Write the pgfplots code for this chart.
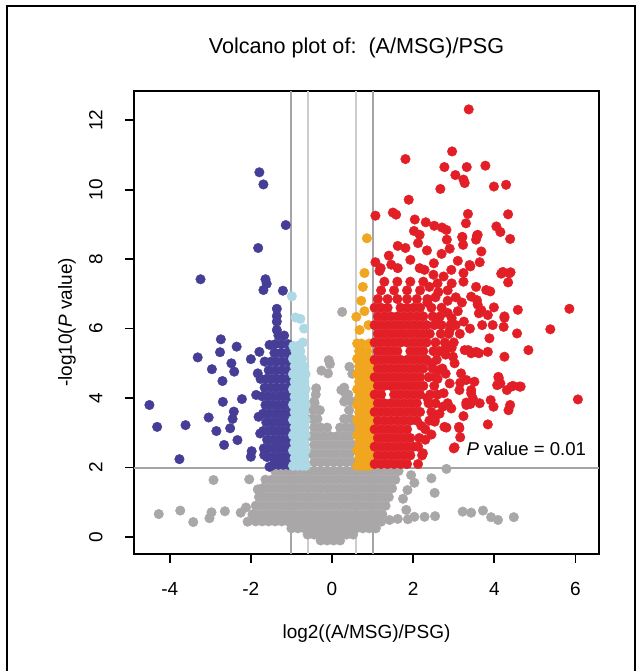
\documentclass[border=0pt]{standalone}
\usepackage{pgfplots}
\pgfplotsset{compat=1.18}
\usepackage{fontspec}
\setmainfont{Liberation Sans}
\definecolor{dnblue}{RGB}{70,62,150}
\definecolor{ltblue}{RGB}{173,216,230}
\definecolor{ptgray}{RGB}{170,167,169}
\definecolor{uporange}{RGB}{240,166,30}
\definecolor{upred}{RGB}{226,30,38}
\definecolor{refdark}{RGB}{165,165,165}
\definecolor{reflight}{RGB}{205,205,205}
\pgfplotsset{pt/.style={only marks, mark=*, mark size=2.4pt, color=#1, mark options={fill=#1, draw=#1, line width=0.2pt}}}
\begin{document}
\begin{tikzpicture}[font=\fontsize{9.5}{11.5}\selectfont]
\useasboundingbox (0,0) rectangle (321pt,335.5pt);
\draw[line width=0.8pt] (3.5pt,0) -- (3.5pt,332.5pt) -- (317.5pt,332.5pt) -- (317.5pt,0);
\begin{axis}[
  at={(67pt,58.5pt)}, anchor=south west,
  scale only axis, width=232.5pt, height=231.5pt,
  xmin=-4.88, xmax=6.58, ymin=-0.49, ymax=12.84,
  axis line style={line width=0.9pt},
  tick style={black, line width=0.9pt},
  major tick length=4.5pt, tick align=outside,
  xtick pos=left, ytick pos=left,
  xtick={-4,-2,0,2,4,6}, xticklabels={-4,-2,0,2,4,6},
  ytick={0,2,4,6,8,10,12}, yticklabels={0,2,4,6,8,10,12},
  xticklabel style={anchor=base, yshift=-16pt},
  yticklabel style={xshift=-11.25pt, rotate=90, anchor=base},
  title={Volcano plot of:\ \ (A/MSG)/PSG},
  title style={at={(rel axis cs:0.5,1)}, anchor=center, yshift=15.5pt, xshift=-5pt, font=\fontsize{10.8}{13}\selectfont},
  xlabel={log2((A/MSG)/PSG)},
  xlabel style={at={(rel axis cs:0.5,0)}, anchor=center, yshift=-40pt},
  ylabel={-log10(\textit{P} value)},
  ylabel style={at={(rel axis cs:0,0.5)}, anchor=center, yshift=33.5pt},
]
% threshold lines
\addplot[refdark, line width=1pt, no marks, sharp plot] coordinates {(-1,-0.49) (-1,12.84)};
\addplot[refdark, line width=1pt, no marks, sharp plot] coordinates {(1,-0.49) (1,12.84)};
\addplot[reflight, line width=1pt, no marks, sharp plot] coordinates {(-0.585,-0.49) (-0.585,12.84)};
\addplot[reflight, line width=1pt, no marks, sharp plot] coordinates {(0.585,-0.49) (0.585,12.84)};
\addplot[refdark, line width=1pt, no marks, sharp plot] coordinates {(-4.88,2) (6.58,2)};

% not significant
\addplot[pt=ptgray] coordinates {
(-1.40,1.9) (-1.24,1.9) (-1.08,1.9) (-0.92,1.9) (-0.76,1.9) (-0.60,1.9) (-0.44,1.9) (-0.28,1.9) (-0.12,1.9) (0.04,1.9) (0.20,1.9) (0.36,1.9) (0.52,1.9) (0.68,1.9) (0.84,1.9) (1.00,1.9) (1.16,1.9) (1.32,1.9) (1.48,1.9) (1.64,1.9)
(-1.64,1.65) (-1.48,1.65) (-1.32,1.65) (-1.16,1.65) (-1.00,1.65) (-0.84,1.65) (-0.68,1.65) (-0.52,1.65) (-0.36,1.65) (-0.20,1.65) (-0.04,1.65) (0.12,1.65) (0.28,1.65) (0.44,1.65) (0.60,1.65) (0.76,1.65) (0.92,1.65) (1.08,1.65) (1.24,1.65) (1.40,1.65) (1.56,1.65)
(-1.72,1.4) (-1.56,1.4) (-1.40,1.4) (-1.24,1.4) (-1.08,1.4) (-0.92,1.4) (-0.76,1.4) (-0.60,1.4) (-0.44,1.4) (-0.28,1.4) (-0.12,1.4) (0.04,1.4) (0.20,1.4) (0.36,1.4) (0.52,1.4) (0.68,1.4) (0.84,1.4) (1.00,1.4) (1.16,1.4) (1.32,1.4) (1.48,1.4)
(-1.80,1.15) (-1.64,1.15) (-1.48,1.15) (-1.32,1.15) (-1.16,1.15) (-1.00,1.15) (-0.84,1.15) (-0.68,1.15) (-0.52,1.15) (-0.36,1.15) (-0.20,1.15) (-0.04,1.15) (0.12,1.15) (0.28,1.15) (0.44,1.15) (0.60,1.15) (0.76,1.15) (0.92,1.15) (1.08,1.15) (1.24,1.15) (1.40,1.15)
(-1.88,0.9) (-1.72,0.9) (-1.56,0.9) (-1.40,0.9) (-1.24,0.9) (-1.08,0.9) (-0.92,0.9) (-0.76,0.9) (-0.60,0.9) (-0.44,0.9) (-0.28,0.9) (-0.12,0.9) (0.04,0.9) (0.20,0.9) (0.36,0.9) (0.52,0.9) (0.68,0.9) (0.84,0.9) (1.00,0.9) (1.16,0.9) (1.32,0.9)
(-1.96,0.65) (-1.80,0.65) (-1.64,0.65) (-1.48,0.65) (-1.32,0.65) (-1.16,0.65) (-1.00,0.65) (-0.84,0.65) (-0.68,0.65) (-0.52,0.65) (-0.36,0.65) (-0.20,0.65) (-0.04,0.65) (0.12,0.65) (0.28,0.65) (0.44,0.65) (0.60,0.65) (0.76,0.65) (0.92,0.65) (1.08,0.65) (1.24,0.65)
(-1.88,0.45) (-1.72,0.45) (-1.56,0.45) (-1.40,0.45) (-1.24,0.45) (-1.08,0.45) (-0.92,0.45) (-0.76,0.45) (-0.60,0.45) (-0.44,0.45) (-0.28,0.45) (-0.12,0.45) (0.04,0.45) (0.20,0.45) (0.36,0.45) (0.52,0.45) (0.68,0.45) (0.84,0.45) (1.00,0.45) (1.16,0.45)
(-1.00,0.25) (-0.84,0.25) (-0.68,0.25) (-0.52,0.25) (-0.36,0.25) (-0.20,0.25) (-0.04,0.25) (0.12,0.25) (0.28,0.25) (0.44,0.25) (0.60,0.25) (0.76,0.25) (0.92,0.25) (1.08,0.25)
(-0.60,0.07) (-0.44,0.07) (-0.28,0.07) (-0.12,0.07) (0.04,0.07) (0.20,0.07) (0.36,0.07) (0.52,0.07)
(-0.28,-0.1) (-0.12,-0.1) (0.04,-0.1) (0.20,-0.1)
(-0.44,2.15) (-0.28,2.15) (-0.12,2.15) (0.04,2.15) (0.20,2.15) (0.36,2.15) (0.52,2.15)
(-0.52,2.4) (-0.36,2.4) (-0.20,2.4) (-0.04,2.4) (0.12,2.4) (0.28,2.4) (0.44,2.4)
(-0.44,2.65) (-0.28,2.65) (-0.12,2.65) (0.04,2.65) (0.20,2.65) (0.36,2.65) (0.52,2.65)
(-0.52,2.9) (-0.36,2.9) (-0.20,2.9) (-0.04,2.9) (0.12,2.9) (0.28,2.9) (0.44,2.9)
(-0.44,3.15) (-0.28,3.15) (-0.12,3.15) (0.20,3.15) (0.36,3.15) (0.52,3.15)
(-0.50,3.4) (-0.36,3.4) (0.30,3.4) (0.46,3.4)
(-0.46,3.65) (-0.30,3.65) (0.42,3.65)
(-0.44,3.9) (0.30,3.9) (0.48,3.9)
(-0.40,4.1) (0.40,4.1)
(0.25,6.48) (-0.08,5.09) (-0.26,4.79) (-0.10,4.71) (-0.39,4.28) (0.23,4.23) (0.30,4.30) (-0.43,3.85) (0.34,4.12) (0.43,4.90) (0.50,4.70) (-0.05,4.98)
(-4.27,0.66) (-3.74,0.76) (-3.42,0.43) (-3.02,0.54) (-2.97,0.71) (-2.64,0.74) (-2.92,1.64) (-2.04,1.66) (-1.83,1.37) (-2.12,0.85) (-2.08,0.44) (-2.25,0.70)
(2.82,1.96) (2.45,1.69) (2.53,1.27) (1.95,1.78) (2.03,1.56) (1.83,0.78) (1.62,0.52) (1.42,0.49) (1.21,0.44) (1.87,0.51) (2.03,0.58) (2.28,0.58) (2.54,0.60) (3.22,0.73) (3.43,0.70) (3.72,0.76) (3.92,0.57) (4.09,0.49) (4.48,0.57) (1.86,1.35) (1.75,1.10)
};

% down, |log2FC| >= 1
\addplot[pt=dnblue] coordinates {
(-1.79,10.5) (-1.69,10.15) (-1.14,8.98) (-1.82,8.32) (-3.24,7.42) (-1.64,7.42) (-1.61,7.29) (-1.69,7.11) (-1.21,7.09) (-1.36,6.57) (-1.36,6.36) (-1.36,6.2)
(-2.74,5.69) (-2.35,5.48) (-2.76,5.32) (-3.31,5.17) (-2.48,5.0) (-2.41,4.76) (-2.96,4.83) (-2.0,5.12) (-2.70,4.49) (-2.22,3.97) (-2.69,3.89) (-4.50,3.8) (-2.42,3.61) (-3.04,3.44) (-2.45,3.40) (-4.31,3.17) (-3.61,3.22) (-2.51,3.13) (-2.85,3.05) (-2.33,2.79) (-2.66,2.65) (-3.76,2.24) (-1.98,2.47) (-2.0,2.31)
(-1.79,5.33) (-1.54,5.53) (-1.36,5.96) (-1.83,4.71) (-1.87,4.09) (-1.81,3.46) (-1.77,2.98) (-1.67,2.36) (-1.54,2.02)
(-1.08,2.08) (-1.20,2.08) (-1.32,2.08) (-1.44,2.08)
(-1.10,2.3) (-1.22,2.3) (-1.34,2.3) (-1.46,2.3) (-1.60,2.3)
(-1.06,2.55) (-1.18,2.55) (-1.30,2.55) (-1.42,2.55) (-1.55,2.55) (-1.68,2.55)
(-1.10,2.8) (-1.22,2.8) (-1.34,2.8) (-1.46,2.8) (-1.60,2.8)
(-1.06,3.05) (-1.18,3.05) (-1.30,3.05) (-1.42,3.05) (-1.55,3.05) (-1.70,3.05)
(-1.10,3.3) (-1.22,3.3) (-1.34,3.3) (-1.48,3.3) (-1.62,3.3)
(-1.06,3.55) (-1.18,3.55) (-1.30,3.55) (-1.42,3.55) (-1.56,3.55) (-1.70,3.55)
(-1.10,3.8) (-1.22,3.8) (-1.36,3.8) (-1.50,3.8) (-1.64,3.8)
(-1.06,4.05) (-1.18,4.05) (-1.30,4.05) (-1.44,4.05) (-1.58,4.05) (-1.72,4.05)
(-1.10,4.3) (-1.24,4.3) (-1.38,4.3) (-1.52,4.3) (-1.66,4.3)
(-1.06,4.55) (-1.20,4.55) (-1.34,4.55) (-1.48,4.55) (-1.62,4.55) (-1.76,4.55)
(-1.10,4.8) (-1.24,4.8) (-1.40,4.8) (-1.56,4.8)
(-1.08,5.05) (-1.22,5.05) (-1.36,5.05) (-1.50,5.05) (-1.66,5.05)
(-1.12,5.3) (-1.26,5.3) (-1.42,5.3)
(-1.08,5.55) (-1.24,5.55) (-1.40,5.55)
(-1.18,5.8) (-1.32,5.8)
};

% down, 0.585 <= |log2FC| < 1
\addplot[pt=ltblue] coordinates {
(-0.96,2.05) (-0.85,2.05) (-0.74,2.05) (-0.65,2.05)
(-0.92,2.27) (-0.80,2.27) (-0.68,2.27)
(-0.96,2.49) (-0.85,2.49) (-0.74,2.49) (-0.65,2.49)
(-0.92,2.71) (-0.80,2.71) (-0.68,2.71)
(-0.96,2.93) (-0.85,2.93) (-0.74,2.93) (-0.65,2.93)
(-0.92,3.15) (-0.80,3.15) (-0.68,3.15)
(-0.96,3.37) (-0.85,3.37) (-0.74,3.37) (-0.65,3.37)
(-0.92,3.59) (-0.80,3.59) (-0.68,3.59)
(-0.96,3.81) (-0.85,3.81) (-0.74,3.81) (-0.65,3.81)
(-0.92,4.03) (-0.80,4.03) (-0.68,4.03)
(-0.96,4.25) (-0.85,4.25) (-0.74,4.25) (-0.65,4.25)
(-0.92,4.47) (-0.80,4.47) (-0.68,4.47)
(-0.96,4.69) (-0.85,4.69) (-0.74,4.69) (-0.65,4.69)
(-0.92,4.91) (-0.80,4.91) (-0.68,4.91)
(-0.96,5.13) (-0.85,5.13) (-0.74,5.13)
(-0.90,5.35) (-0.78,5.35)
(-0.99,6.93) (-0.90,6.32) (-0.78,6.28) (-0.69,6.0) (-0.95,5.5) (-0.84,5.5) (-0.72,5.6)
};

% up, 0.585 <= log2FC < 1
\addplot[pt=uporange] coordinates {
(0.62,2.05) (0.72,2.05) (0.82,2.05) (0.92,2.05)
(0.67,2.27) (0.77,2.27) (0.87,2.27) (0.97,2.27)
(0.62,2.49) (0.72,2.49) (0.82,2.49) (0.92,2.49)
(0.67,2.71) (0.77,2.71) (0.87,2.71) (0.97,2.71)
(0.62,2.93) (0.72,2.93) (0.82,2.93) (0.92,2.93)
(0.67,3.15) (0.77,3.15) (0.87,3.15) (0.97,3.15)
(0.62,3.37) (0.72,3.37) (0.82,3.37) (0.92,3.37)
(0.67,3.59) (0.77,3.59) (0.87,3.59) (0.97,3.59)
(0.62,3.81) (0.72,3.81) (0.82,3.81) (0.92,3.81)
(0.67,4.03) (0.77,4.03) (0.87,4.03) (0.97,4.03)
(0.62,4.25) (0.72,4.25) (0.82,4.25) (0.92,4.25)
(0.67,4.47) (0.77,4.47) (0.87,4.47) (0.97,4.47)
(0.62,4.69) (0.72,4.69) (0.82,4.69) (0.92,4.69)
(0.67,4.91) (0.77,4.91) (0.87,4.91) (0.97,4.91)
(0.62,5.13) (0.72,5.13) (0.82,5.13) (0.92,5.13)
(0.67,5.35) (0.77,5.35) (0.87,5.35)
(0.62,5.57) (0.72,5.57) (0.92,5.57)
(0.68,5.96) (0.90,6.10) (0.60,6.34) (0.80,6.50) (0.72,6.80) (0.76,7.20) (0.80,7.60) (0.86,8.60)
};

% up, log2FC >= 1
\addplot[pt=upred] coordinates {
(1.05,2.1) (1.21,2.1) (1.37,2.1) (1.53,2.1) (1.69,2.1) (1.85,2.1) (2.12,2.1)
(1.13,2.35) (1.29,2.35) (1.45,2.35) (1.61,2.35) (1.77,2.35) (1.93,2.35) (2.22,2.35)
(1.05,2.6) (1.21,2.6) (1.37,2.6) (1.53,2.6) (1.69,2.6) (1.85,2.6) (2.01,2.6)
(1.13,2.85) (1.29,2.85) (1.45,2.85) (1.61,2.85) (1.77,2.85) (1.93,2.85) (2.15,2.85)
(1.05,3.1) (1.21,3.1) (1.37,3.1) (1.53,3.1) (1.69,3.1) (1.85,3.1) (2.30,3.1)
(1.13,3.35) (1.29,3.35) (1.45,3.35) (1.61,3.35) (1.77,3.35) (1.93,3.35) (2.09,3.35)
(1.05,3.6) (1.21,3.6) (1.37,3.6) (1.53,3.6) (1.69,3.6) (1.85,3.6) (2.01,3.6) (2.17,3.6) (2.45,3.6)
(1.13,3.85) (1.29,3.85) (1.45,3.85) (1.61,3.85) (1.77,3.85) (1.93,3.85) (2.09,3.85) (2.38,3.85)
(1.05,4.1) (1.21,4.1) (1.53,4.1) (1.69,4.1) (1.85,4.1) (2.01,4.1) (2.17,4.1) (2.42,4.1) (2.60,4.1)
(1.13,4.35) (1.29,4.35) (1.45,4.35) (1.61,4.35) (1.77,4.35) (1.93,4.35) (2.09,4.35) (2.25,4.35) (2.52,4.35)
(1.05,4.6) (1.21,4.6) (1.37,4.6) (1.53,4.6) (1.69,4.6) (1.85,4.6) (2.01,4.6) (2.17,4.6) (2.38,4.6) (2.55,4.6)
(1.13,4.85) (1.29,4.85) (1.45,4.85) (1.61,4.85) (1.77,4.85) (1.93,4.85) (2.09,4.85) (2.25,4.85) (2.48,4.85) (2.72,4.85)
(1.05,5.1) (1.21,5.1) (1.37,5.1) (1.53,5.1) (1.69,5.1) (1.85,5.1) (2.01,5.1) (2.17,5.1) (2.33,5.1) (2.58,5.1)
(1.13,5.35) (1.29,5.35) (1.45,5.35) (1.61,5.35) (1.93,5.35) (2.09,5.35) (2.25,5.35) (2.50,5.35) (2.65,5.35)
(1.05,5.6) (1.21,5.6) (1.37,5.6) (1.53,5.6) (1.69,5.6) (1.85,5.6) (2.01,5.6) (2.17,5.6) (2.33,5.6) (2.55,5.6) (2.78,5.6)
(1.13,5.85) (1.29,5.85) (1.45,5.85) (1.61,5.85) (1.77,5.85) (1.93,5.85) (2.09,5.85) (2.25,5.85) (2.41,5.85) (2.68,5.85) (2.88,5.85)
(1.05,6.1) (1.21,6.1) (1.37,6.1) (1.53,6.1) (1.69,6.1) (1.85,6.1) (2.01,6.1) (2.17,6.1) (2.33,6.1) (2.52,6.1) (2.70,6.1) (2.92,6.1)
(1.13,6.35) (1.29,6.35) (1.45,6.35) (1.61,6.35) (1.77,6.35) (1.93,6.35) (2.09,6.35) (2.25,6.35) (2.48,6.35) (2.66,6.35)
(1.05,6.6) (1.21,6.6) (1.37,6.6) (1.69,6.6) (1.85,6.6) (2.01,6.6) (2.17,6.6) (2.45,6.6)
(1.13,6.85) (1.37,6.85) (1.61,6.85) (1.85,6.85) (2.09,6.85) (2.35,6.85)
(1.21,7.1) (1.53,7.1) (1.85,7.1) (2.17,7.1)
(1.29,7.35) (1.61,7.35) (1.93,7.35) (2.25,7.35)
(2.35,6.75) (2.55,6.90) (2.70,6.60) (2.85,6.80) (2.62,7.05) (2.40,7.20) (2.90,5.95) (3.05,6.10) (2.80,5.25) (2.95,5.45) (2.60,4.55) (2.80,4.70) (2.35,4.00) (2.55,3.85) (2.65,3.55) (2.40,3.35) (2.30,2.80) (2.45,2.95) (2.20,3.20) (2.60,6.25) (2.85,6.45) (3.20,6.75) (2.50,7.55) (2.95,7.30) (3.10,7.95) (2.70,8.15) (2.90,8.30)
(3.37,12.31) (2.96,11.1) (1.81,10.88) (2.77,10.65) (3.32,10.65) (3.78,10.69) (3.04,10.42) (3.24,10.29) (3.27,10.19) (3.99,10.09) (4.29,10.14) (2.67,10.02) (1.89,9.71) (1.07,9.25) (1.50,9.34) (1.58,9.28) (3.35,9.30) (3.30,9.03) (4.34,9.29) (2.04,9.14) (2.31,9.06) (2.52,8.96) (2.71,8.91) (2.82,8.84) (2.83,8.56) (2.02,8.81) (2.16,8.70) (4.05,8.94) (4.15,8.78) (4.39,8.58) (2.12,8.46) (3.21,8.63) (3.23,8.41) (3.59,8.70) (3.55,8.56) (1.62,8.38) (1.81,8.32) (2.34,8.25) (1.93,7.98) (1.07,7.91) (1.46,7.84) (1.62,7.74) (2.16,7.74) (2.28,7.69) (2.51,7.88) (2.94,7.69) (3.68,8.22) (3.64,7.91) (3.41,7.79) (4.17,7.58) (4.40,7.62) (4.34,7.33) (3.24,7.60) (1.17,7.66)
(5.85,6.57) (4.58,6.54) (3.90,7.07) (3.99,6.61) (4.25,6.35) (3.59,6.69) (5.38,5.98) (6.06,3.96) (4.84,5.38) (4.56,5.86) (4.25,6.31) (4.23,6.05) (4.62,4.33) (4.46,4.35) (4.31,4.23) (4.39,3.80) (4.35,3.65) (4.10,4.61) (4.07,4.37) (3.91,3.94) (3.98,3.75) (3.84,3.24) (3.64,3.85) (3.31,3.87) (3.41,3.83) (3.43,4.23) (3.16,4.44) (3.62,5.29) (3.84,5.33) (3.88,5.72) (3.70,6.10) (3.96,6.10) (3.62,6.44) (3.36,5.38) (3.43,5.29) (3.14,3.13) (3.16,2.87) (2.82,3.15) (3.0,2.55) (3.24,3.48) (2.94,3.70) (2.73,3.75)
(3.39,7.83) (3.24,7.35) (3.55,7.20) (3.80,7.11) (3.43,6.92) (3.57,6.82) (3.68,6.53) (3.84,6.39) (4.25,5.19) (3.21,8.64) (3.57,8.67) (4.42,4.33) (4.65,4.33) (4.11,4.57) (4.15,4.42) (3.51,4.47) (3.47,3.99) (3.31,3.80) (3.13,3.17) (2.77,3.17) (2.53,3.32) (3.02,2.58) (2.24,2.41) (2.12,2.60) (2.77,5.38) (2.98,5.19) (3.27,5.38) (3.55,5.33) (3.18,4.71) (3.31,4.52) (3.43,4.14) (3.14,4.23) (2.90,4.42) (2.75,4.14) (2.85,3.85) (2.53,3.37) (3.02,5.0) (2.65,4.81) (2.45,5.0) (4.21,7.63) (4.37,7.59)
(2.60,7.30) (2.85,7.10) (3.05,6.90) (3.10,6.50) (3.25,6.20) (3.40,6.00) (2.95,6.30) (3.15,5.85) (3.00,5.60) (2.75,7.50) (1.40,8.10) (1.20,7.74)
};

\node[anchor=base east, inner sep=0pt, font=\fontsize{9.3}{11}\selectfont] at (axis cs:6.27,2.36) {\textit{P} value = 0.01};
\end{axis}
\end{tikzpicture}
\end{document}
